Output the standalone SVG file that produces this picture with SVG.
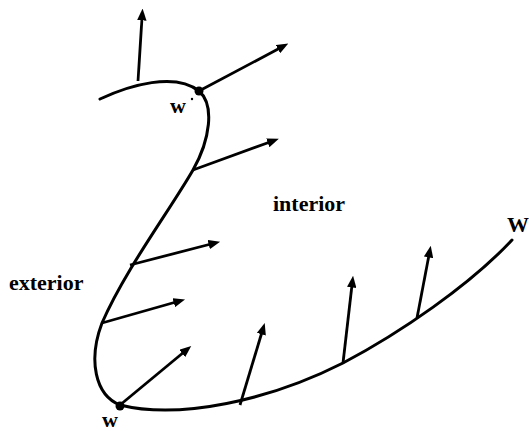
<svg xmlns="http://www.w3.org/2000/svg" width="529" height="431" viewBox="0 0 529 431">
<style>
.c{fill:none;stroke:#000;stroke-width:3;stroke-linecap:round}
.a{fill:none;stroke:#000;stroke-width:2.8;marker-end:url(#ah)}
.t{font-family:"Liberation Serif",serif;font-weight:bold;font-size:22px;fill:#000}
</style>
<defs>
<marker id="ah" viewBox="0 0 10 8" refX="2" refY="4" markerWidth="4.2" markerHeight="3.4" orient="auto" markerUnits="strokeWidth">
<path d="M0,0 L10,4 L0,8 Z" fill="#000"/>
</marker>
</defs>
<g id="curve">
<path class="c" d="M100,99 C130,85 175,72 199,91 C215,105 210,140 193,170 C170,210 125,270 102,323 C88,360 95,395 120,405 C180,420 270,400 343,363 C400,333 470,285 512,240"/>
</g>
<g id="connectors">
<line class="a" x1="138" y1="81" x2="142" y2="18"/>
<line class="a" x1="199" y1="91" x2="280" y2="48"/>
<line class="a" x1="193" y1="170" x2="270" y2="142"/>
<line class="a" x1="130" y1="265" x2="211" y2="244"/>
<line class="a" x1="102" y1="323" x2="176" y2="302"/>
<line class="a" x1="120" y1="405" x2="184" y2="352"/>
<line class="a" x1="240" y1="405" x2="262" y2="332"/>
<line class="a" x1="343" y1="363" x2="352" y2="285"/>
<line class="a" x1="417" y1="318" x2="429" y2="255"/>
</g>
<g id="w-prime">
<circle cx="199" cy="91" r="4.5"/>
<text class="t" x="170" y="113" font-size="17">w</text>
<circle cx="192" cy="99" r="1.2"/>
</g>
<g id="w">
<circle cx="120" cy="406" r="4.5"/>
<text class="t" x="102" y="427" font-size="18">w</text>
</g>
<text class="t" x="273" y="211">interior</text>
<text class="t" x="9" y="290">exterior</text>
<text class="t" x="507" y="232" font-size="20">W</text>
</svg>
